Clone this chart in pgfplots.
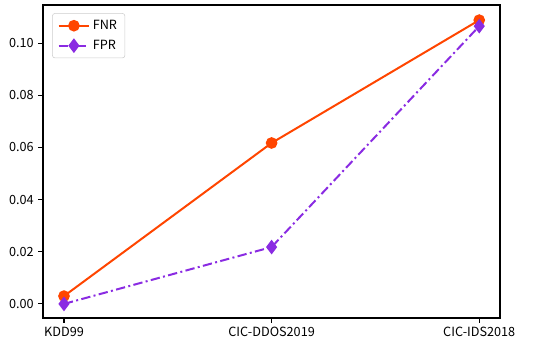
\documentclass[border=0pt]{standalone}
\usepackage{pgfplots}
\pgfplotsset{compat=1.18}
\usepackage{fontspec}
\setmainfont{Noto Sans CJK SC}
\definecolor{fnr}{HTML}{FF4500}
\definecolor{fpr}{HTML}{8A2BE2}

\begin{document}
\begin{tikzpicture}
\begin{axis}[
  scale only axis,
  width=342.75pt, height=234.75pt,
  xmin=-0.101, xmax=2.10,
  ymin=-0.0054, ymax=0.1146,
  xtick={0,1,2},
  xticklabels={KDD99,CIC-DDOS2019,CIC-IDS2018},
  ytick={0,0.02,0.04,0.06,0.08,0.10},
  yticklabel style={/pgf/number format/.cd,fixed,fixed zerofill,precision=2,assume math mode=true},
  scaled y ticks=false,
  tick label style={font=\fontsize{9.5}{11}\selectfont},
  tick align=outside, tick pos=left,
  major tick length=3.5pt,
  axis line style={line width=0.8pt},
  every tick/.style={black,line width=0.8pt},
  clip=false,
  legend style={font=\fontsize{9.5}{11}\selectfont, draw=black!20, rounded corners=2pt,
    inner xsep=4pt, inner ysep=3pt, row sep=2.5pt, at={(0.02,0.974)}, anchor=north west},
  legend cell align=left,
  legend image code/.code={
    \draw[mark repeat=2,mark phase=2,#1] plot coordinates {(0cm,0cm) (0.4cm,0cm) (0.8cm,0cm)};},
]
\addplot[color=fnr, line width=1.5pt, mark=*, mark size=3.6pt] coordinates {
  (0,0.003) (1,0.0617) (2,0.1088)};
\addlegendentry{FNR}
\addplot[color=fpr, line width=1.5pt, dash pattern=on 7pt off 2.5pt on 1.5pt off 2.5pt,
  mark=diamond*, mark size=4.3pt, mark options={solid}] coordinates {
  (0,0.0) (1,0.0218) (2,0.1065)};
\addlegendentry{FPR}
\path (rel axis cs:-0.0941,-0.0895) rectangle (rel axis cs:1.1094,1.016);
\end{axis}
\end{tikzpicture}
\end{document}
